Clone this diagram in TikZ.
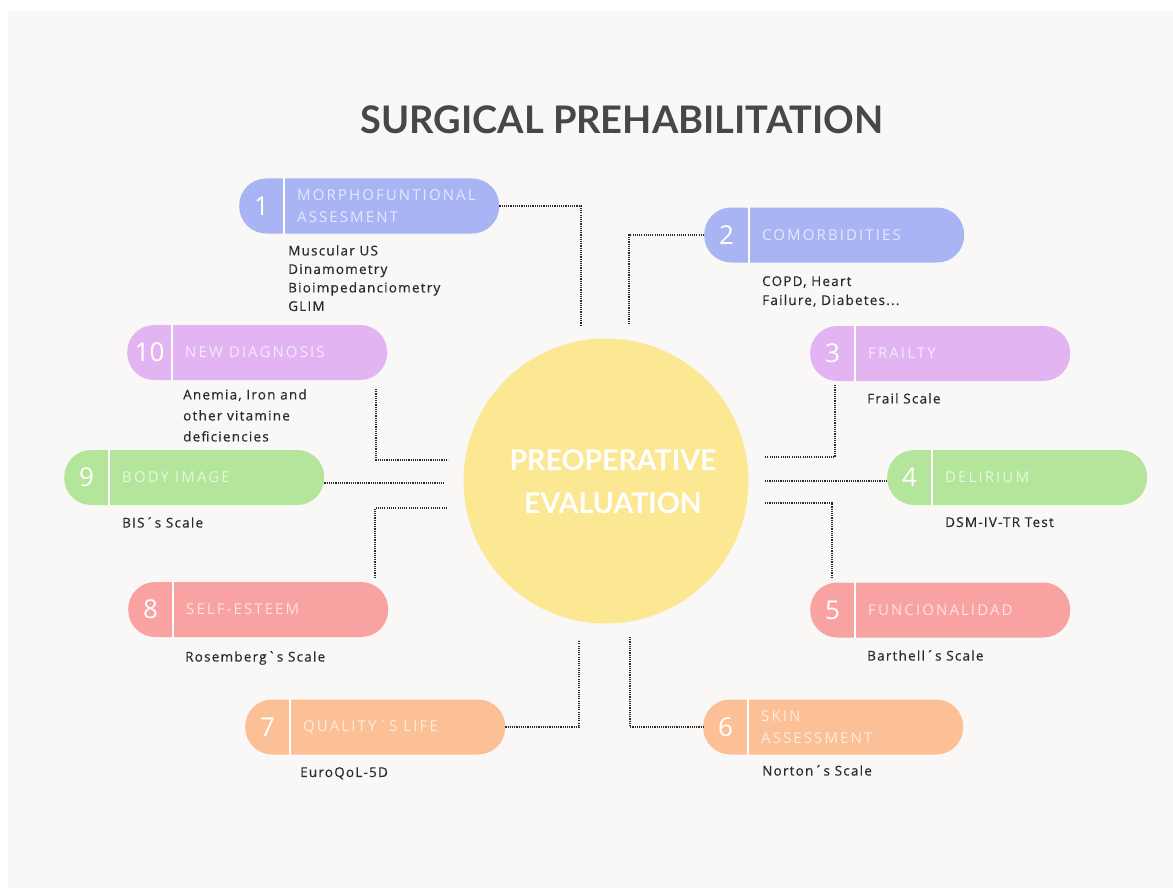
\documentclass[tikz,border=0pt]{standalone}
\usepackage{fontspec}
\setmainfont{Open Sans}
\newfontfamily\titlefont{Lato}
\newfontfamily\descfont[LetterSpace=9,Ligatures=TeXOff,FakeBold=0.4]{Open Sans}
\newfontfamily\labfont[LetterSpace=14,Ligatures=TeXOff]{Open Sans}
\usetikzlibrary{calc}
\definecolor{bg}{HTML}{F9F8F6}
\definecolor{cblue}{HTML}{A9B4F4}
\definecolor{cviolet}{HTML}{E2B5F2}
\definecolor{cgreen}{HTML}{B3E59B}
\definecolor{cpink}{HTML}{F9A2A2}
\definecolor{cpeach}{HTML}{FCC096}
\definecolor{cyellow}{HTML}{FCE792}
\definecolor{ink}{HTML}{2A2A2A}
\definecolor{titlegray}{HTML}{474747}
\tikzset{
 pill/.style={fill=#1, rounded corners=27pt, minimum width=260pt, minimum height=55pt, inner sep=0pt, anchor=west},
 pillnum/.style={text=white, font=\fontsize{26}{26}\selectfont, inner sep=0pt},
 pilllab/.style={text=white!70!#1, font=\labfont\fontsize{15}{22}\selectfont, align=left, anchor=west, inner sep=0pt},
 desc/.style={text=ink, font=\descfont\fontsize{13.5}{19}\selectfont, align=left, anchor=north west, inner sep=0pt},
 conn/.style={draw=ink, line width=1.8pt, dash pattern=on 1.1pt off 1.1pt},
 divider/.style={draw=white, line width=1.6pt},
}
\newcommand\pillitem[6]{%
  \node[pill=#4] (#1) at (#2,#3) {};
  \draw[divider] ($(#1.north west)+(45,0)$) -- ($(#1.south west)+(45,0)$);
  \node[pillnum] (#1n) at ($(#1.west)+(22.5,0)$) {#5};
  \node[pilllab=#4] (#1l) at ($(#1.west)+(58,0)$) {#6};
}
\begin{document}
\begin{tikzpicture}[x=1pt,y=-1pt]
\useasboundingbox (0,0) rectangle (1173,888);
\fill[white] (0,0) rectangle (1173,888);
\fill[bg] (8,11) rectangle (1173,888);

\node[font=\titlefont\bfseries\fontsize{38}{38}\selectfont, text=titlegray] (title) at (622,120) {SURGICAL PREHABILITATION};

\node[circle, fill=cyellow, minimum size=285pt, inner sep=0pt] (circ) at (606,481) {};
\node[font=\titlefont\bfseries\fontsize{28.5}{43}\selectfont, text=white, align=center] (ctext) at (613,482) {PREOPERATIVE\\EVALUATION};

\pillitem{p1}{239}{206}{cblue}{1}{MORPHOFUNTIONAL\\ASSESMENT}
\pillitem{p2}{704}{235}{cblue}{2}{COMORBIDITIES}
\pillitem{p3}{810}{353.5}{cviolet}{3}{FRAILTY}
\pillitem{p4}{887}{477.5}{cgreen}{4}{DELIRIUM}
\pillitem{p5}{810}{610}{cpink}{5}{FUNCIONALIDAD}
\pillitem{p6}{703}{727}{cpeach}{6}{SKIN\\ASSESSMENT}
\pillitem{p7}{245}{727}{cpeach}{7}{QUALITY`S LIFE}
\pillitem{p8}{128}{609.5}{cpink}{8}{SELF-ESTEEM}
\pillitem{p9}{64}{477.5}{cgreen}{9}{BODY IMAGE}
\pillitem{p10}{127}{352.5}{cviolet}{10}{NEW DIAGNOSIS}

\node[desc, font=\descfont\fontsize{13.5}{18.5}\selectfont] (d1) at (288,245) {Muscular US\\Dinamometry\\Bioimpedanciometry\\GLIM};
\node[desc] (d2) at (762,276) {COPD, Heart\\Failure, Diabetes...};
\node[desc] (d3) at (867,393) {Frail Scale};
\node[desc] (d4) at (945,517) {DSM-IV-TR Test};
\node[desc] (d5) at (867,650) {Barthell´s Scale};
\node[desc] (d6) at (762,765) {Norton´s Scale};
\node[desc] (d7) at (300,767) {EuroQoL-5D};
\node[desc] (d8) at (185,651) {Rosemberg`s Scale};
\node[desc] (d9) at (122,517) {BIS´s Scale};
\node[desc, font=\descfont\fontsize{13.5}{21}\selectfont] (d10) at (183,389) {Anemia, Iron and\\other vitamine\\deficiencies};

\coordinate (c1) at (581,326);
\draw[conn] (p1.east) -| (c1);
\coordinate (c2) at (629,325);
\draw[conn] (p2.west) -| (c2);
\coordinate (k10) at (376,389); \coordinate (c10) at (448,460);
\draw[conn] (k10) |- (c10);
\coordinate (c9) at (444,483);
\draw[conn] (c9 -| p9.east) -- (c9);
\coordinate (c8) at (447,508); \coordinate (k8) at (375,578);
\draw[conn] (c8) -| (k8);
\coordinate (k3) at (835,385); \coordinate (c3) at (765,457);
\draw[conn] (k3) |- (c3);
\coordinate (c4) at (765,481);
\draw[conn] (c4) -- (c4 -| p4.west);
\coordinate (c5) at (765,503); \coordinate (k5) at (832,578);
\draw[conn] (c5) -| (k5);
\coordinate (c7) at (579,640);
\draw[conn] (p7.east) -| (c7);
\coordinate (c6) at (630,637);
\draw[conn] (c6) |- (p6.west);
\end{tikzpicture}
\end{document}
